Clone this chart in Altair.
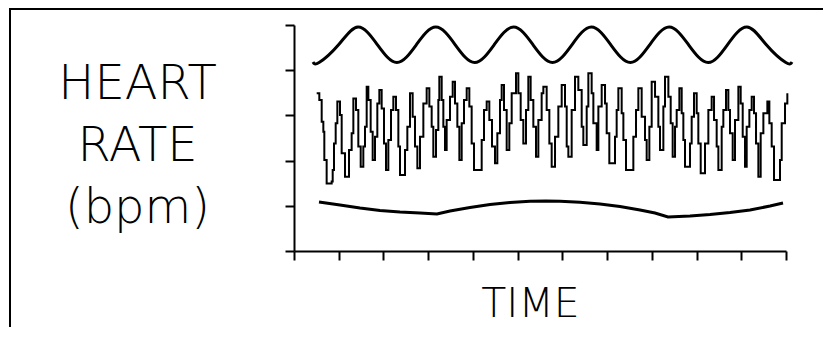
import altair as alt
import pandas as pd

# ---- data (time in s, heart rate in bpm) ----
SINE_T = [4.25, 5.61, 9.96, 14.31, 18.66, 23.0, 27.35, 31.70, 36.05, 40.4, 44.75, 49.09,
          53.44, 57.8, 62.14, 66.48, 70.83, 75.2, 79.53, 83.87, 88.22, 92.6, 96.9,
          101.26, 105.6, 109.96, 111.34]
SINE_V = [123.6, 123.4, 131.25, 139.1, 131.25, 123.4, 131.25, 139.1, 131.25, 123.4, 131.25, 139.1,
          131.25, 123.4, 131.25, 139.1, 131.25, 123.4, 131.25, 139.1, 131.25, 123.4, 131.25,
          139.1, 131.25, 123.4, 123.6]

HR_T = [5.07, 5.66, 6.19, 6.56, 6.78, 7.30, 8.42, 8.65, 8.94, 9.32, 9.69, 10.28, 10.66, 11.40,
        12.30, 12.89, 13.27, 13.86, 14.38, 14.91, 15.50, 15.87, 16.25, 16.62, 17.14, 17.59,
        18.11, 18.63, 19.08, 19.60, 20.12, 20.57, 21.09, 21.69, 22.21, 22.80, 23.33, 23.70,
        24.82, 25.34, 25.94, 26.53, 27.05, 27.58, 28.17, 28.92, 29.66, 30.26, 30.78, 31.15,
        31.75, 32.27, 32.49, 33.02, 33.39, 33.76, 34.13, 34.88, 35.48, 36.00, 36.52, 36.97,
        37.49, 38.01, 38.61, 39.20, 39.72, 40.25, 41.96, 42.48, 43.08, 43.67, 44.27, 44.94,
        45.46, 46.06, 46.43, 46.95, 47.55, 48.14, 48.67, 49.63, 50.16, 50.68, 51.27, 51.87,
        52.39, 52.91, 53.51, 54.11, 54.63, 55.37, 55.75, 56.49, 57.09, 57.61,
        58.36, 59.10, 59.85, 60.59, 60.97, 61.34, 62.08, 62.83, 63.57, 64.32, 64.69, 65.44,
        65.81, 66.55, 66.93, 67.67, 68.05, 68.79, 69.54, 69.91, 70.50, 71.77, 72.14, 72.52,
        73.26, 73.64, 74.23, 75.87, 76.47, 76.99, 77.73, 78.48, 78.85, 79.45, 79.97, 80.72,
        81.46, 81.83, 82.58, 82.95, 83.70, 84.22, 84.66, 85.19, 85.56, 86.16, 86.68, 87.05,
        87.42, 88.54, 88.91, 89.43, 90.03, 90.40, 90.93, 91.89, 92.64, 93.38, 93.91, 94.50,
        94.88, 95.62, 95.99, 96.59, 97.11, 97.48, 98.08, 98.60, 99.35, 99.87, 100.32, 100.84,
        101.21, 101.81, 102.33, 102.85, 103.30, 103.82, 104.34, 104.94, 105.83, 106.28,
        106.80, 107.32, 108.66, 109.04, 109.78, 110.30]
HR_V = [109.8, 106.8, 97.2, 92.8, 80.3, 69.9, 70.7, 75.8, 87.6, 96.5, 106.1, 100.2, 83.2, 72.9,
        84.7, 92.1, 107.5, 102.4, 86.2, 77.3, 86.2, 95.0, 112.7, 106.8, 92.8, 80.3,
        90.6, 105.3, 111.2, 103.1, 87.6, 75.8, 89.1, 102.4, 108.3, 102.4, 86.2, 73.6,
        84.7, 95.0, 109.8, 99.4, 86.2, 76.6, 90.6, 105.3, 112.0, 103.9, 95.0, 81.7,
        93.5, 106.8, 117.1, 106.8, 95.0, 84.7, 98.0, 108.3, 114.9, 105.3, 95.0, 80.3,
        96.5, 106.8, 112.0, 103.9, 87.6, 75.8, 89.1, 102.4, 106.1, 98.0, 86.2, 78.8,
        92.1, 106.8, 113.4, 102.4, 84.7, 96.5, 109.8, 118.6, 109.8, 98.0, 87.6, 102.4,
        117.1, 106.8, 95.0, 81.7, 98.0, 109.8, 112.7, 102.4, 87.6, 77.3,
        90.6, 103.9, 113.4, 103.9, 86.2, 81.7, 102.4, 117.1, 111.2, 95.0, 86.9, 103.9,
        118.6, 109.8, 96.5, 84.7, 103.9, 113.4, 105.3, 92.1, 78.8, 90.6, 102.4, 112.0,
        100.9, 89.1, 75.8, 90.6, 102.4, 112.0, 99.4, 89.1, 80.3, 95.0, 114.9, 108.3,
        95.0, 84.7, 103.9, 117.1, 108.3, 96.5, 81.7, 95.0, 102.4, 112.0, 100.9, 89.1,
        77.3, 87.6, 99.4, 109.8, 100.9, 87.6, 74.4, 87.6, 102.4, 108.3, 98.0, 86.2,
        75.8, 95.0, 102.4, 111.2, 102.4, 92.1, 80.3, 98.0, 112.7, 105.3, 90.6, 77.3,
        95.0, 102.4, 108.3, 100.9, 87.6, 72.9, 92.1, 100.9, 106.1, 96.5,
        86.2, 71.4, 80.3, 96.5, 105.3, 109.8]

LOW_T = [5.59, 10.28, 14.76, 19.23, 23.70, 28.17, 31.97, 34.88, 39.35, 43.82, 48.29, 52.77,
         56.34, 59.47, 63.94, 68.41, 72.88, 77.36, 80.71, 83.62, 88.54, 93.01, 97.48, 101.96,
         106.43, 109.33]
LOW_V = [61.68, 60.35, 59.03, 57.92, 57.26, 56.81, 56.37, 57.70, 59.25, 60.58, 61.46, 61.99,
         62.12, 62.04, 61.59, 60.80, 59.69, 58.14, 56.81, 55.04, 55.49, 56.15, 57.04, 58.14,
         59.91, 61.24]

X_TICKS = [0, 10, 20, 30, 40, 50, 60, 70, 80, 90, 100, 110]
Y_TICKS = [40, 60, 80, 100, 120, 140]
Y_TITLE = ["HEART", "RATE", "(bpm)"]
X_TITLE = "TIME"

FONT = "DejaVu Sans"

sine_df = pd.DataFrame({"t": SINE_T, "v": SINE_V})
hr_df = pd.DataFrame({"t": HR_T, "v": HR_V})
low_df = pd.DataFrame({"t": LOW_T, "v": LOW_V})

xs = alt.Scale(domain=[0, 110], nice=False, zero=False)
ys = alt.Scale(domain=[40, 140], nice=False, zero=False)

xa = alt.Axis(values=X_TICKS, labels=False, grid=False, domainColor="black", domainWidth=2,
              tickColor="black", tickWidth=2, tickSize=9, title=X_TITLE,
              titleFont=FONT, titleFontWeight=200, titleFontSize=41, titleColor="black",
              titleX=236, titleY=65, titleAlign="center", titleBaseline="alphabetic")
ya = alt.Axis(values=Y_TICKS, labels=False, grid=False, domainColor="black", domainWidth=2,
              tickColor="black", tickWidth=2, tickSize=9, title=Y_TITLE,
              titleFont=FONT, titleFontWeight=200, titleFontSize=48, titleColor="black",
              titleAngle=0, titleX=-157, titleY=73, titleAlign="center",
              titleBaseline="alphabetic", titleLineHeight=62)

X = alt.X("t:Q", scale=xs, axis=xa)
Y = alt.Y("v:Q", scale=ys, axis=ya)

sine = alt.Chart(sine_df).mark_line(interpolate="natural", color="black", strokeWidth=3).encode(x=X, y=Y)
hr = alt.Chart(hr_df).mark_line(interpolate="step-after", color="black", strokeWidth=2).encode(x=X, y=Y)
low = alt.Chart(low_df).mark_line(interpolate="linear", color="black", strokeWidth=3).encode(x=X, y=Y)

one = alt.Data(values=[{}])
top_border = alt.Chart(one).mark_rule(color="black", strokeWidth=2).encode(
    x=alt.value(-284), x2=alt.value(529), y=alt.value(-16))
left_border = alt.Chart(one).mark_rule(color="black", strokeWidth=2).encode(
    x=alt.value(-284), y=alt.value(-17), y2=alt.value(302))

chart = alt.layer(top_border, left_border, sine, hr, low).properties(
    width=492, height=226,
    autosize=alt.AutoSizeParams(type="none"),
    padding={"left": 286, "top": 17, "right": 37, "bottom": 76},
).configure_view(stroke=None)

chart.save("out.html", embed_options={"renderer": "svg", "actions": False})
